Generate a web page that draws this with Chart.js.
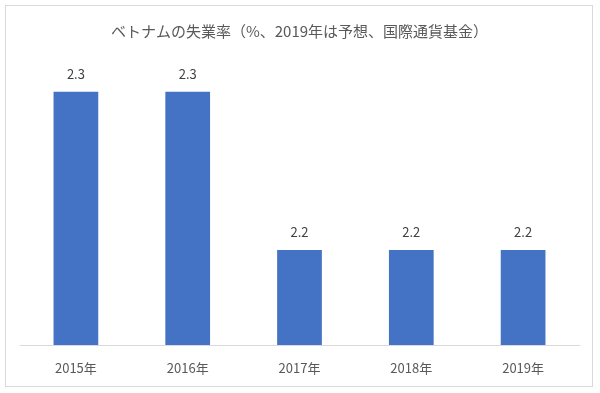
<!DOCTYPE html>
<html>
<head>
<meta charset="utf-8">
<script src="https://cdn.jsdelivr.net/npm/chart.js@4"></script>
<style>
  html, body { margin: 0; padding: 0; background: #fff; }
  #wrap { width: 600px; height: 393px; }
</style>
</head>
<body>
<div id="wrap"><canvas id="c" width="600" height="393"></canvas></div>
<script>
const years = ['2015年', '2016年', '2017年', '2018年', '2019年']
const rates = [2.3, 2.3, 2.2, 2.2, 2.2]
const titleText = 'ベトナムの失業率（%、2019年は予想、国際通貨基金）'

const fontFamily = '"Noto Sans CJK JP", "Noto Sans", sans-serif'

// outer frame like the spreadsheet chart box
const framePlugin = {
  id: 'frame',
  beforeDraw(chart) {
    const ctx = chart.ctx
    ctx.save()
    ctx.fillStyle = '#fff'
    ctx.fillRect(0, 0, chart.width, chart.height)
    ctx.strokeStyle = '#d9d9d9'
    ctx.lineWidth = 1
    ctx.strokeRect(5.5, 5.5, 587, 381)
    ctx.restore()
  }
}

// value labels above each bar
const valueLabels = {
  id: 'valueLabels',
  afterDatasetsDraw(chart) {
    const ctx = chart.ctx
    const meta = chart.getDatasetMeta(0)
    ctx.save()
    ctx.fillStyle = '#404040'
    ctx.font = '13px ' + fontFamily
    ctx.textAlign = 'center'
    ctx.textBaseline = 'middle'
    meta.data.forEach((bar, i) => {
      ctx.fillText(rates[i].toFixed(1), bar.x, bar.y - 18)
    })
    ctx.restore()
  }
}

new Chart(document.getElementById('c').getContext('2d'), {
  type: 'bar',
  data: {
    labels: years,
    datasets: [{
      data: rates,
      backgroundColor: '#4472C4',
      categoryPercentage: 1,
      barPercentage: 0.4
    }]
  },
  options: {
    responsive: false,
    animation: false,
    layout: { padding: { left: 20, right: 21, top: 0, bottom: 0 } },
    plugins: {
      legend: { display: false },
      tooltip: { enabled: false },
      title: {
        display: true,
        text: titleText,
        color: '#595959',
        font: { family: fontFamily, size: 15, weight: 'normal' },
        padding: { top: 22, bottom: 20 }
      }
    },
    scales: {
      x: {
        grid: { display: false },
        border: { display: true, color: '#d9d9d9' },
        ticks: {
          color: '#595959',
          font: { family: fontFamily, size: 13 },
          padding: 7
        },
        afterFit(scale) { scale.height = 48 }
      },
      y: {
        display: false,
        min: 2.14,
        max: 2.32
      }
    }
  },
  plugins: [framePlugin, valueLabels]
})
</script>
</body>
</html>
